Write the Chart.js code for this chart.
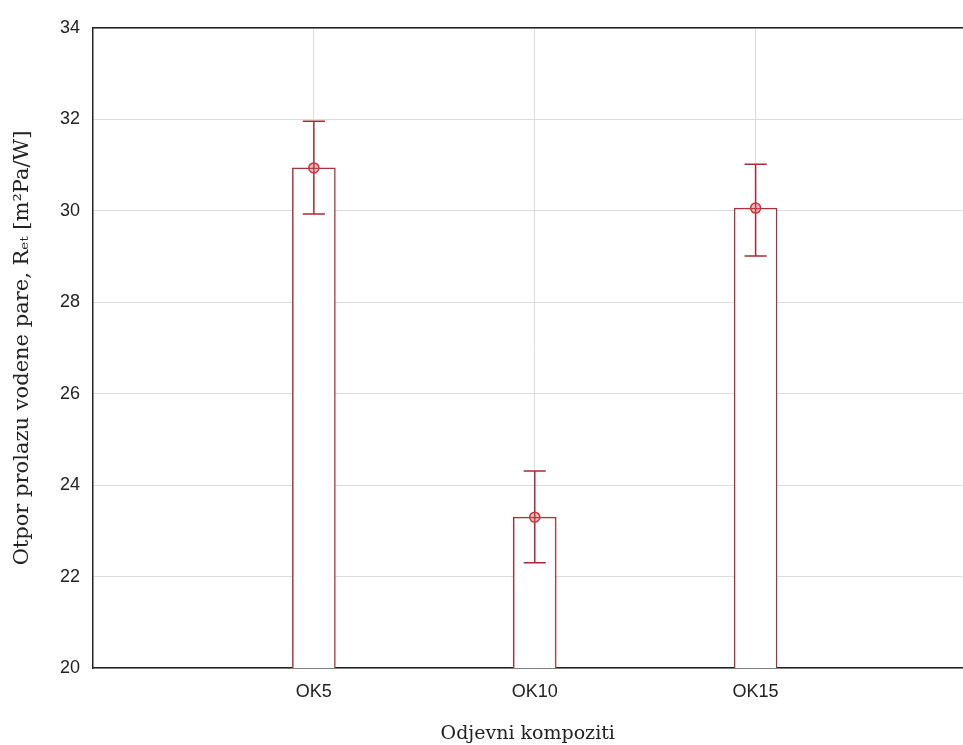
<!DOCTYPE html>
<html>
<head>
<meta charset="utf-8">
<script src="https://cdn.jsdelivr.net/npm/chart.js@4/dist/chart.umd.min.js"></script>
<style>
html,body{margin:0;padding:0;background:#fff;overflow:hidden;}
#wrap{width:969px;height:745px;position:relative;}
</style>
</head>
<body>
<div id="wrap"><canvas id="c"></canvas></div>
<script>
const categories = ['OK5', 'OK10', 'OK15'];
const means = [30.94, 23.30, 30.06];
const upper = [31.96, 24.31, 31.02];
const lower = [29.93, 22.30, 29.01];
const yTicks = [20, 22, 24, 26, 28, 30, 32, 34];

const barColor = '#a8323c';
const errColor = '#a82a36';
const capHalf = 0.05;

const datasets = [];
datasets.push({
  type: 'bar',
  data: categories.map((c, i) => ({x: i + 1, y: means[i]})),
  backgroundColor: '#ffffff',
  borderColor: barColor,
  borderWidth: 1.5,
  barThickness: 43,
  order: 3
});
categories.forEach((c, i) => {
  const pos = i + 1;
  const common = {type: 'line', borderColor: errColor, borderWidth: 1.5, pointRadius: 0, fill: false, order: 2};
  datasets.push(Object.assign({data: [{x: pos, y: lower[i]}, {x: pos, y: upper[i]}]}, common));
  datasets.push(Object.assign({data: [{x: pos - capHalf, y: upper[i]}, {x: pos + capHalf, y: upper[i]}]}, common));
  datasets.push(Object.assign({data: [{x: pos - capHalf, y: lower[i]}, {x: pos + capHalf, y: lower[i]}]}, common));
});
datasets.push({
  type: 'scatter',
  data: categories.map((c, i) => ({x: i + 1, y: means[i]})),
  pointRadius: 5,
  pointStyle: 'circle',
  pointBackgroundColor: 'rgba(230,70,80,0.35)',
  pointBorderColor: '#d0303c',
  pointBorderWidth: 1.5,
  order: 1
});

new Chart(document.getElementById('c'), {
  type: 'bar',
  data: {datasets: datasets},
  options: {
    responsive: true,
    maintainAspectRatio: false,
    animation: false,
    layout: {padding: {top: 28, right: 0, left: 0, bottom: 0}},
    plugins: {legend: {display: false}, tooltip: {enabled: false}},
    scales: {
      x: {
        type: 'linear',
        position: 'bottom',
        min: 0,
        max: (963 - 93) / 221,
        offset: false,
        afterBuildTicks: (s) => { s.ticks = categories.map((c, i) => ({value: i + 1})); },
        afterFit: (s) => { s.height = 77; },
        grid: {color: '#dcdcdc', lineWidth: 1, drawTicks: false, offset: false},
        border: {display: true, color: '#222', width: 1.5},
        ticks: {
          callback: (v) => categories[Math.round(v) - 1] || '',
          font: {family: 'Liberation Sans', size: 18},
          color: '#222',
          padding: 13,
          maxRotation: 0
        },
        title: {
          display: true,
          text: 'Odjevni kompoziti',
          font: {family: 'DejaVu Serif', size: 19},
          color: '#222',
          padding: {top: 0, bottom: 0}
        }
      },
      x2: {
        type: 'linear',
        position: 'top',
        min: 0, max: 1,
        afterFit: (s) => { s.height = 0; },
        grid: {display: false, drawTicks: false},
        border: {display: true, color: '#222', width: 1.5},
        ticks: {display: false}
      },
      y: {
        min: 20,
        max: 34,
        afterBuildTicks: (s) => { s.ticks = yTicks.map(v => ({value: v})); },
        afterFit: (s) => { s.width = 93; },
        grid: {color: '#dcdcdc', lineWidth: 1, drawTicks: false},
        border: {display: true, color: '#222', width: 1.5},
        ticks: {
          font: {family: 'Liberation Sans', size: 18},
          color: '#222',
          padding: 13
        },
        title: {
          display: true,
          text: 'Otpor prolazu vodene pare, Rₑₜ [m²Pa/W]',
          font: {family: 'DejaVu Serif', size: 21},
          color: '#222',
          padding: {top: 10, bottom: 0}
        }
      }
    }
  }
});
</script>
</body>
</html>
